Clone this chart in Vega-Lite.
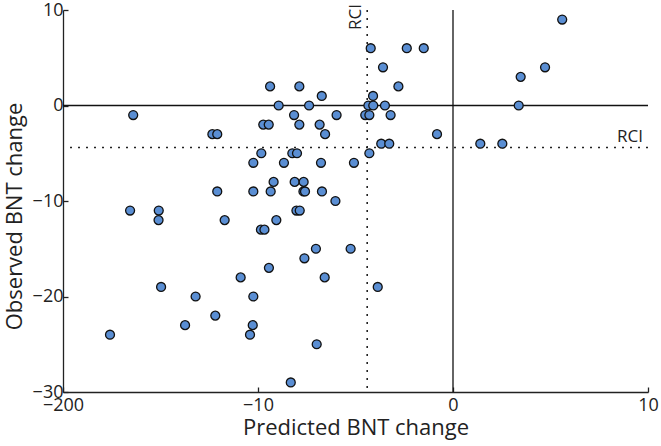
{
  "$schema": "https://vega.github.io/schema/vega-lite/v6.json",
  "autosize": {"type": "none"},
  "padding": {"left": 63, "top": 10, "right": 13, "bottom": 54},
  "width": 585,
  "height": 382,
  "background": "white",
  "config": {
    "view": {"stroke": null},
    "font": "Open Sans",
    "axis": {
      "grid": false,
      "domainColor": "#222222",
      "domainWidth": 1.3,
      "tickColor": "#222222",
      "tickWidth": 1.3,
      "tickSize": -5,
      "labelFlush": false,
      "labelFont": "Open Sans",
      "labelFontSize": 18,
      "labelColor": "#222222",
      "titleFont": "Open Sans",
      "titleFontSize": 22,
      "titleFontWeight": "normal",
      "titleColor": "#222222"
    }
  },
  "layer": [
    {
      "data": {"values": [{}]},
      "mark": {"type": "rule", "color": "#111111", "strokeWidth": 1.3},
      "encoding": {"y": {"datum": 0, "type": "quantitative"}}
    },
    {
      "data": {"values": [{}]},
      "mark": {"type": "rule", "color": "#111111", "strokeWidth": 1.3},
      "encoding": {"x": {"datum": 0, "type": "quantitative"}}
    },
    {
      "data": {"values": [{}]},
      "mark": {"type": "rule", "color": "#222222", "strokeWidth": 1.6, "strokeDash": [2, 6]},
      "encoding": {"y": {"datum": -4.4, "type": "quantitative"}}
    },
    {
      "data": {"values": [{}]},
      "mark": {"type": "rule", "color": "#222222", "strokeWidth": 1.6, "strokeDash": [2, 6]},
      "encoding": {"x": {"datum": -4.4, "type": "quantitative"}}
    },
    {
      "data": {"values": [{"label": "RCI"}]},
      "mark": {"type": "text", "font": "Open Sans", "fontSize": 17, "color": "#222222", "align": "right", "baseline": "bottom", "dx": -5, "dy": -2},
      "encoding": {
        "text": {"field": "label"},
        "x": {"datum": 10, "type": "quantitative"},
        "y": {"datum": -4.4, "type": "quantitative"}
      }
    },
    {
      "data": {"values": [{"label": "RCI"}]},
      "mark": {"type": "text", "font": "Open Sans", "fontSize": 17, "color": "#222222", "align": "right", "baseline": "bottom", "angle": 270, "dx": 6, "dy": -2},
      "encoding": {
        "text": {"field": "label"},
        "x": {"datum": -4.4, "type": "quantitative"},
        "y": {"datum": 10, "type": "quantitative"}
      }
    },
    {
      "data": {
        "values": [
          {"predicted": -9.38, "observed": 2},
          {"predicted": -7.88, "observed": 2},
          {"predicted": -6.73, "observed": 1},
          {"predicted": -8.94, "observed": 0},
          {"predicted": -7.38, "observed": 0},
          {"predicted": -16.4, "observed": -1},
          {"predicted": -8.15, "observed": -1},
          {"predicted": -5.97, "observed": -1},
          {"predicted": -9.73, "observed": -2},
          {"predicted": -9.45, "observed": -2},
          {"predicted": -7.88, "observed": -2},
          {"predicted": -6.84, "observed": -2},
          {"predicted": -12.34, "observed": -3},
          {"predicted": -12.09, "observed": -3},
          {"predicted": -6.56, "observed": -3},
          {"predicted": -9.83, "observed": -5},
          {"predicted": -8.24, "observed": -5},
          {"predicted": -8.0, "observed": -5},
          {"predicted": -10.24, "observed": -6},
          {"predicted": -8.67, "observed": -6},
          {"predicted": -6.77, "observed": -6},
          {"predicted": -5.08, "observed": -6},
          {"predicted": -9.2, "observed": -8},
          {"predicted": -8.12, "observed": -8},
          {"predicted": -7.66, "observed": -8},
          {"predicted": -12.09, "observed": -9},
          {"predicted": -10.24, "observed": -9},
          {"predicted": -9.35, "observed": -9},
          {"predicted": -7.67, "observed": -9},
          {"predicted": -7.59, "observed": -9},
          {"predicted": -6.72, "observed": -9},
          {"predicted": -6.03, "observed": -10},
          {"predicted": 5.6, "observed": 9},
          {"predicted": -4.22, "observed": 6},
          {"predicted": -2.37, "observed": 6},
          {"predicted": -1.5, "observed": 6},
          {"predicted": 4.72, "observed": 4},
          {"predicted": -3.59, "observed": 4},
          {"predicted": 3.47, "observed": 3},
          {"predicted": -2.8, "observed": 2},
          {"predicted": -4.1, "observed": 1},
          {"predicted": -4.34, "observed": 0},
          {"predicted": -4.09, "observed": 0},
          {"predicted": -3.49, "observed": 0},
          {"predicted": 3.37, "observed": 0},
          {"predicted": -4.5, "observed": -1},
          {"predicted": -4.29, "observed": -1},
          {"predicted": -3.2, "observed": -1},
          {"predicted": -0.82, "observed": -3},
          {"predicted": -3.68, "observed": -4},
          {"predicted": -3.27, "observed": -4},
          {"predicted": 1.4, "observed": -4},
          {"predicted": 2.53, "observed": -4},
          {"predicted": -4.29, "observed": -5},
          {"predicted": -16.56, "observed": -11},
          {"predicted": -15.09, "observed": -11},
          {"predicted": -8.03, "observed": -11},
          {"predicted": -7.86, "observed": -11},
          {"predicted": -15.1, "observed": -12},
          {"predicted": -11.71, "observed": -12},
          {"predicted": -9.06, "observed": -12},
          {"predicted": -9.85, "observed": -13},
          {"predicted": -9.67, "observed": -13},
          {"predicted": -7.03, "observed": -15},
          {"predicted": -5.25, "observed": -15},
          {"predicted": -7.62, "observed": -16},
          {"predicted": -9.44, "observed": -17},
          {"predicted": -10.89, "observed": -18},
          {"predicted": -6.58, "observed": -18},
          {"predicted": -14.97, "observed": -19},
          {"predicted": -3.86, "observed": -19},
          {"predicted": -13.2, "observed": -20},
          {"predicted": -10.24, "observed": -20},
          {"predicted": -12.19, "observed": -22},
          {"predicted": -13.74, "observed": -23},
          {"predicted": -10.27, "observed": -23},
          {"predicted": -17.59, "observed": -24},
          {"predicted": -10.41, "observed": -24},
          {"predicted": -6.99, "observed": -25},
          {"predicted": -8.32, "observed": -29}
        ]
      },
      "mark": {"type": "point", "shape": "circle", "filled": true, "size": 80, "fill": "#5a8ed3", "stroke": "#111111", "strokeWidth": 1.3, "opacity": 1},
      "encoding": {
        "x": {
          "field": "predicted",
          "type": "quantitative",
          "scale": {"domain": [-20, 10], "nice": false, "zero": false},
          "axis": {
            "title": "Predicted BNT change",
            "values": [-20, -10, 0, 10],
            "labelExpr": "datum.value == -20 ? '−200' : datum.label",
            "labelPadding": 9,
            "titlePadding": 3
          }
        },
        "y": {
          "field": "observed",
          "type": "quantitative",
          "scale": {"domain": [-30, 10], "nice": false, "zero": false},
          "axis": {
            "title": "Observed BNT change",
            "values": [-30, -20, -10, 0, 10],
            "labelPadding": 5,
            "titlePadding": 6,
            "titleY": 206
          }
        }
      }
    }
  ]
}
